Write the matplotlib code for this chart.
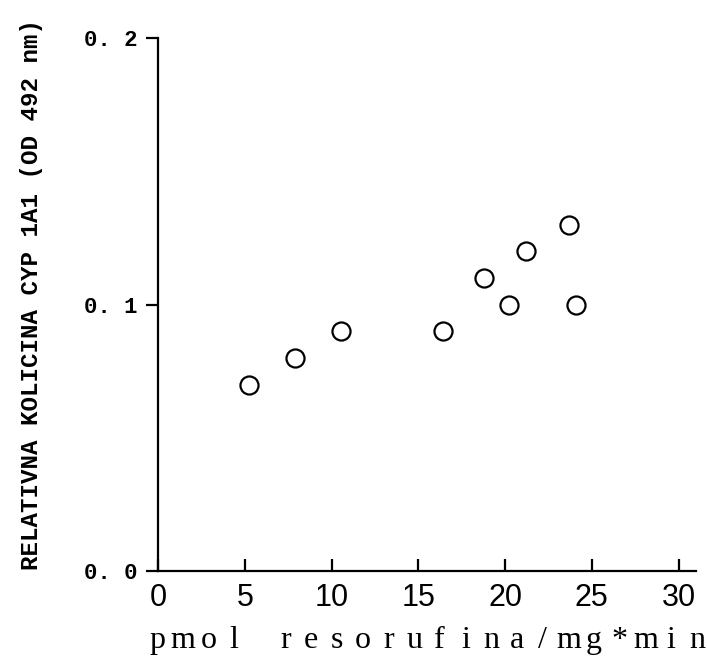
import matplotlib
matplotlib.use("Agg")
import matplotlib.pyplot as plt

# aktivnost (pmol resorufina/mg*min) i relativna kolicina CYP 1A1
activity = [5.24, 7.89, 10.54, 16.41, 18.77, 20.21, 21.19, 23.66, 24.06]
cyp1a1 = [0.070, 0.080, 0.090, 0.090, 0.110, 0.100, 0.120, 0.130, 0.100]

x_ticks = [0, 5, 10, 15, 20, 25, 30]
y_ticks = [0.0, 0.1, 0.2]
y_tick_labels = ["0. 0", "0. 1", "0. 2"]
x_label = "pmol resorufina/mg*min"
y_label = "RELATIVNA KOLICINA CYP 1A1 (OD 492 nm)"

W, H = 707, 658
fig = plt.figure(figsize=(W / 100, H / 100), dpi=100)
ax = fig.add_axes([0.2235, 0.1315, 0.9844 - 0.2235, 0.9422 - 0.1315])

ax.scatter(activity, cyp1a1, s=13 ** 2, facecolors="white", edgecolors="black",
           linewidths=1.6, zorder=3, clip_on=False)

ax.set_xlim(0, 31)
ax.set_ylim(0, 0.2)
for side in ["top", "right"]:
    ax.spines[side].set_visible(False)
for side in ["left", "bottom"]:
    ax.spines[side].set_linewidth(1.6)

ax.set_xticks(x_ticks)
ax.set_xticklabels([str(t) for t in x_ticks], family="Liberation Sans", fontsize=22)
ax.set_yticks(y_ticks)
ax.set_yticklabels(y_tick_labels, family="Liberation Mono", fontweight="bold", fontsize=16)
ax.tick_params(axis="x", direction="in", length=8.5, width=1.6, pad=8)
ax.tick_params(axis="y", direction="out", length=8.5, width=1.6, pad=6)

ax.set_ylabel(y_label, family="Liberation Mono", fontweight="bold", fontsize=17.4)
ax.yaxis.set_label_coords(-0.214, 0.52)

# x naslov: razmaknuta slova, fiksni korak
pitch = 25.7
center = 427
baseline = H - 648
for i, ch in enumerate(x_label):
    xc = center + (i - (len(x_label) - 1) / 2) * pitch
    fig.text(xc / W, baseline / H, ch, ha="center", va="baseline",
             family="Liberation Serif", fontsize=23)

fig.savefig("out.png", dpi=100)
